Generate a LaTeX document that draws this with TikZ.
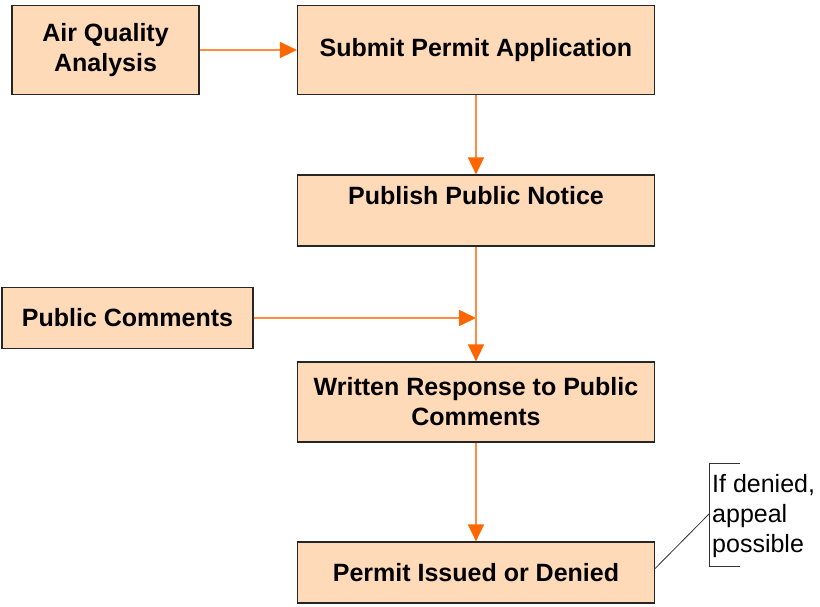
\documentclass[tikz,border=0pt]{standalone}
\usepackage{fontspec}
\setmainfont{Liberation Sans}
\usetikzlibrary{arrows.meta}
\definecolor{boxfill}{HTML}{FFDAB9}
\definecolor{flow}{HTML}{FF6600}
\begin{document}
\begin{tikzpicture}[x=1pt, y=-1pt,
    box/.style = {draw=black!85, fill=boxfill, line width=1.2pt, align=center,
        inner sep=0pt, font=\fontsize{25}{30}\selectfont\bfseries},
    arrow/.style = {flow!75, line width=1.6pt, 
        -{Triangle[length=17pt,width=16pt,color=flow]}}]
                \useasboundingbox (0,0) rectangle (820,607);

                \node[box, minimum width=187, minimum height=89] 
                    (aqa) at (105.5,50) {Air Quality\\Analysis};
                \node[box, minimum width=357, minimum height=89] 
                    (sub) at (476,50) {Submit Permit Application};
                \node[box, minimum width=357, minimum height=71] 
                    (pub) at (476,210.5) {Publish Public Notice\\ \mbox{}};
                \node[box, minimum width=251, minimum height=61] 
                    (com) at (127.5,318) {Public Comments};
                \node[box, minimum width=357, minimum height=80] 
                    (resp) at (476,402) {Written Response to Public\\Comments};
                \node[box, minimum width=357, minimum height=61] 
                    (out) at (476,572.5) {Permit Issued or Denied};

                \coordinate (join) at (pub.south |- com.east);
                \draw[arrow] (aqa) -- (sub);
                \draw[arrow] (sub) -- (pub);
                \draw[arrow] (com) -- (join);
                \draw[arrow] (pub) -- (resp);
                \draw[arrow] (resp) -- (out);

                % callout
                \node[anchor=west, align=left, inner sep=0pt,
                    font=\fontsize{25}{30}\selectfont] 
                    (note) at (712,516) {If denied,\\appeal\\possible};
                \coordinate (brk) at (709,514);
                \draw[black!80, line width=0.8pt] 
                    (740,463) -- (709,463) -- (709,566) -- (740,566);
                \draw[black!80, line width=0.8pt] ([yshift=4pt]out.east) -- (brk);
\end{tikzpicture}
\end{document}
